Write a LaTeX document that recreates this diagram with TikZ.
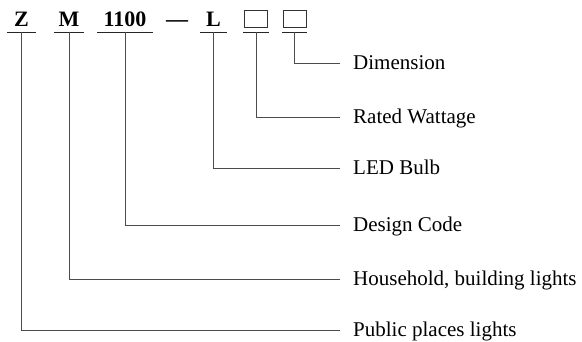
\documentclass[tikz,border=0pt]{standalone}
\usepackage{fontspec}
\setmainfont{Liberation Serif}
\usetikzlibrary{positioning}
\tikzset{
  code/.style={font=\fontsize{22}{24}\selectfont\bfseries, inner xsep=0pt, inner ysep=5pt, text height=15pt, text depth=0pt, anchor=south},
  sq/.style={draw=black!80, line width=0.7pt, minimum width=23pt, minimum height=17pt, inner sep=0pt},
  lead/.style={draw=black!70, line width=0.8pt},
  desc/.style={font=\fontsize{21}{24}\selectfont, text height=14pt, text depth=0pt, inner ysep=0pt, inner xsep=13pt, anchor=west},
}
\begin{document}
\begin{tikzpicture}[x=1pt,y=-1pt]
\useasboundingbox (0,0) rectangle (582,342);
% model code
\node[code, minimum width=29pt] (z) at (21.5,32) {Z};
\node[code, minimum width=30pt] (m) at (69,32) {M};
\node[code, minimum width=56pt] (dc) at (125,32) {1100};
\node[code] (dash) at (177,32) {---};
\node[code, minimum width=27pt] (l) at (213.5,32) {L};
\node[code, minimum width=26pt] (w) at (256,32) {};
\node[code, minimum width=25pt] (s) at (294.5,32) {};
\node[sq, above=4pt of w.south] (wbox) {};
\node[sq, above=4pt of s.south] (sbox) {};
\foreach \n in {z,m,dc,l,w,s}
  \draw[lead, draw=black!85] (\n.south west) -- (\n.south east);

% meanings
\node[desc] (dim)  at (340,63)  {Dimension};
\node[desc] (watt) at (340,117) {Rated Wattage};
\node[desc] (led)  at (340,168) {LED Bulb};
\node[desc] (des)  at (340,225) {Design Code};
\node[desc] (home) at (340,279) {Household, building lights};
\node[desc] (pub)  at (340,330) {Public places lights};

\draw[lead] (s.south) |- (dim.west);
\draw[lead] (w.south) |- (watt.west);
\draw[lead] (l.south) |- (led.west);
\draw[lead] (dc.south) |- (des.west);
\draw[lead] (m.south) |- (home.west);
\draw[lead] (z.south) |- (pub.west);
\end{tikzpicture}
\end{document}
